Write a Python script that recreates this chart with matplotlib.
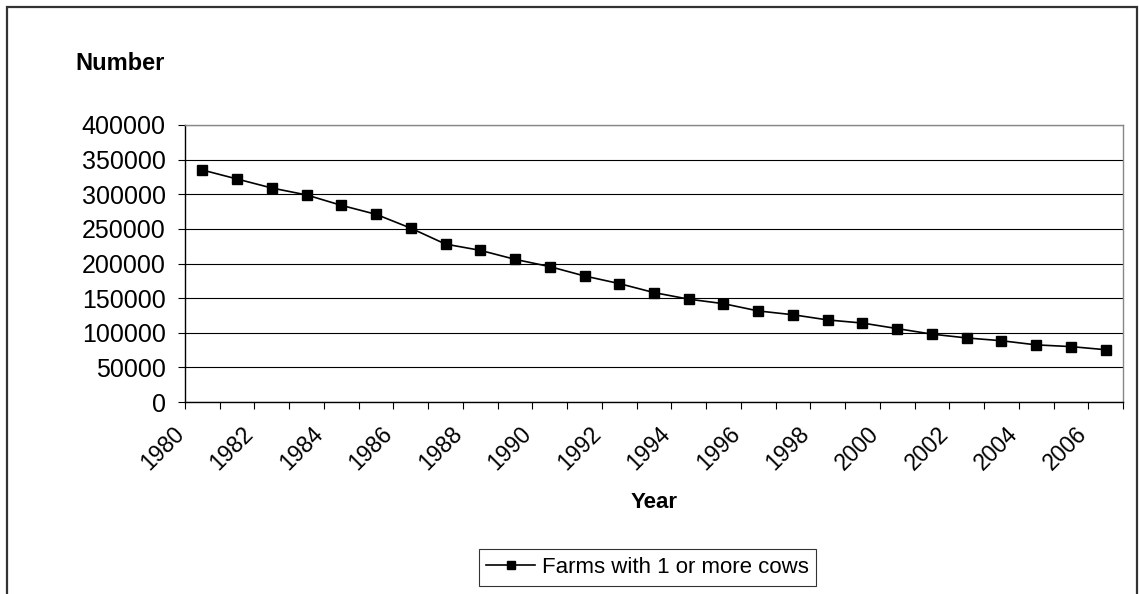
import numpy as np
import matplotlib.pyplot as plt
from matplotlib.patches import Rectangle

plt.rcParams['font.family'] = ['Liberation Sans', 'DejaVu Sans']

years = list(range(1980, 2007))
farms = [335000, 322000, 309000, 299000, 284000, 271000, 251000, 228000,
         219000, 206000, 195500, 182000, 171000, 158000, 148500, 142000,
         131500, 126000, 118500, 114000, 106000, 98000, 92500, 88500,
         82500, 80000, 75500]
series_name = 'Farms with 1 or more cows'

W, H = 1139, 594
fig = plt.figure(figsize=(W / 100, H / 100), dpi=100)
ax = fig.add_axes([185 / W, 1 - 402 / H, 938 / W, 277 / H])

x = np.arange(len(years))
line, = ax.plot(x, farms, color='black', lw=1.2, marker='s', markersize=7.5,
                markerfacecolor='black', markeredgecolor='black', zorder=3)

ax.set_xlim(-0.5, len(years) - 0.5)
ax.set_ylim(0, 400000)
ax.set_yticks(np.arange(0, 400001, 50000))
ax.yaxis.grid(True, color='black', lw=0.8)
ax.set_axisbelow(True)

# category boundaries carry the ticks, every second one is labelled
bounds = np.arange(len(years) + 1) - 0.5
labels = [str(years[k]) if (k % 2 == 0 and k < len(years)) else '' for k in range(len(bounds))]
ax.set_xticks(bounds)
ax.set_xticklabels(labels, rotation=45, ha='right', va='baseline',
                   rotation_mode='anchor', fontsize=16.5)

ax.tick_params(axis='both', direction='out', length=5, width=0.8, colors='black')
ax.tick_params(axis='y', labelsize=18, pad=9)
ax.tick_params(axis='x', pad=19)

for side in ('top', 'right'):
    ax.spines[side].set_color('#888888')
    ax.spines[side].set_linewidth(1.0)
for side in ('left', 'bottom'):
    ax.spines[side].set_color('black')
    ax.spines[side].set_linewidth(1.0)

fig.text(165 / W, 1 - 64 / H, 'Number', ha='right', va='center',
         fontsize=17, fontweight='bold')
fig.text(654 / W, 1 - 503 / H, 'Year', ha='center', va='center',
         fontsize=16, fontweight='bold')

leg = fig.legend([line], [series_name], loc='center',
                 bbox_to_anchor=(647.5 / W, 1 - 567.5 / H), fontsize=16,
                 frameon=True, fancybox=False, handlelength=2.2,
                 borderpad=0.35, handletextpad=0.3)
leg.get_frame().set_edgecolor('black')
leg.get_frame().set_linewidth(0.8)
for h in leg.legend_handles:
    h.set_markersize(6)

# outer chart frame, open at the bottom
fig.patches.append(Rectangle((7 / W, -0.1), 1130 / W, 1.1 - 7 / H,
                             transform=fig.transFigure, fill=False,
                             edgecolor='#333333', lw=1.6))

fig.savefig('out.png', dpi=100)
